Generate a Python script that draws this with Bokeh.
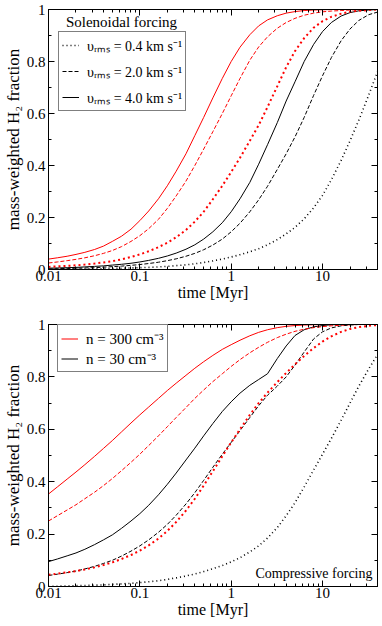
from bokeh.plotting import figure
from bokeh.models import (FixedTicker, CustomJSTickFormatter, LinearAxis, LogAxis,
                          Legend, LegendItem, Label, Range1d)
from bokeh.layouts import column
from bokeh.embed import file_html
from bokeh.resources import INLINE

FONT = "Liberation Serif"

# ---------------- data ----------------
time_myr = [0.01, 0.0125, 0.016, 0.02, 0.025, 0.032, 0.04, 0.05, 0.063, 0.08,
            0.1, 0.125, 0.16, 0.2, 0.25, 0.32, 0.4, 0.5, 0.63, 0.8,
            1, 1.25, 1.6, 2, 2.5, 3.2, 4, 5, 6.3, 8,
            10, 12.5, 16, 20, 25, 32, 40]

# Solenoidal forcing (top panel)
sol_n300_v40 = [0.040, 0.045, 0.051, 0.058, 0.066, 0.077, 0.090, 0.108, 0.128, 0.155,
                0.188, 0.225, 0.272, 0.322, 0.378, 0.445, 0.515, 0.585, 0.660, 0.735,
                0.800, 0.855, 0.903, 0.937, 0.960, 0.976, 0.986, 0.992, 0.996, 0.998,
                0.999, 1.0, 1.0, 1.0, 1.0, 1.0, 1.0]
sol_n300_v20 = [0.025, 0.029, 0.034, 0.039, 0.045, 0.053, 0.062, 0.073, 0.088, 0.108,
                0.130, 0.157, 0.193, 0.235, 0.283, 0.340, 0.400, 0.463, 0.530, 0.600,
                0.668, 0.735, 0.805, 0.856, 0.895, 0.928, 0.950, 0.966, 0.978, 0.986,
                0.991, 0.994, 0.996, 0.998, 0.999, 1.0, 1.0]
sol_n300_v04 = [0.010, 0.012, 0.014, 0.016, 0.019, 0.023, 0.027, 0.032, 0.039, 0.048,
                0.058, 0.070, 0.086, 0.103, 0.124, 0.152, 0.184, 0.222, 0.270, 0.322,
                0.375, 0.430, 0.495, 0.555, 0.625, 0.705, 0.778, 0.840, 0.890, 0.930,
                0.955, 0.972, 0.984, 0.991, 0.995, 0.998, 1.0]
sol_n30_v40 = [0.005, 0.006, 0.007, 0.008, 0.010, 0.012, 0.014, 0.017, 0.020, 0.024,
               0.029, 0.035, 0.043, 0.052, 0.063, 0.078, 0.095, 0.117, 0.145, 0.180,
               0.222, 0.272, 0.335, 0.405, 0.480, 0.565, 0.648, 0.722, 0.800, 0.866,
               0.915, 0.950, 0.975, 0.988, 0.995, 0.998, 1.0]
sol_n30_v20 = [0.002, 0.003, 0.004, 0.005, 0.006, 0.007, 0.009, 0.011, 0.013, 0.016,
               0.019, 0.023, 0.028, 0.034, 0.041, 0.051, 0.062, 0.076, 0.094, 0.117,
               0.145, 0.178, 0.222, 0.268, 0.320, 0.385, 0.445, 0.510, 0.585, 0.670,
               0.745, 0.815, 0.880, 0.925, 0.958, 0.980, 0.990]
sol_n30_v04 = [0.000, 0.001, 0.001, 0.002, 0.002, 0.003, 0.003, 0.004, 0.005, 0.006,
               0.007, 0.008, 0.010, 0.012, 0.015, 0.018, 0.022, 0.027, 0.033, 0.040,
               0.048, 0.057, 0.068, 0.080, 0.095, 0.115, 0.137, 0.162, 0.195, 0.237,
               0.285, 0.345, 0.420, 0.495, 0.575, 0.670, 0.760]

# Compressive forcing (bottom panel)
comp_n300_v40 = [0.353, 0.380, 0.410, 0.437, 0.465, 0.497, 0.527, 0.557, 0.590, 0.624,
                 0.655, 0.685, 0.718, 0.748, 0.776, 0.806, 0.833, 0.858, 0.882, 0.905,
                 0.923, 0.940, 0.957, 0.970, 0.980, 0.988, 0.993, 0.996, 0.998, 0.999,
                 1.0, 1.0, 1.0, 1.0, 1.0, 1.0, 1.0]
comp_n300_v20 = [0.250, 0.270, 0.292, 0.312, 0.335, 0.360, 0.385, 0.412, 0.442, 0.474,
                 0.505, 0.538, 0.575, 0.610, 0.645, 0.683, 0.718, 0.750, 0.782, 0.812,
                 0.840, 0.866, 0.892, 0.913, 0.932, 0.950, 0.963, 0.974, 0.982, 0.988,
                 0.992, 0.995, 0.997, 0.999, 1.0, 1.0, 1.0]
comp_n300_v04 = [0.045, 0.049, 0.054, 0.059, 0.065, 0.073, 0.082, 0.092, 0.105, 0.120,
                 0.137, 0.157, 0.183, 0.212, 0.246, 0.290, 0.335, 0.385, 0.440, 0.497,
                 0.550, 0.600, 0.655, 0.700, 0.740, 0.780, 0.815, 0.848, 0.880, 0.910,
                 0.935, 0.955, 0.972, 0.983, 0.990, 0.995, 0.998]
comp_n30_v40 = [0.095, 0.105, 0.117, 0.128, 0.142, 0.160, 0.178, 0.197, 0.222, 0.250,
                0.278, 0.310, 0.350, 0.390, 0.433, 0.483, 0.528, 0.575, 0.622, 0.668,
                0.705, 0.738, 0.768, 0.790, 0.812, 0.870, 0.918, 0.958, 0.980, 0.991,
                0.996, 0.999, 1.0, 1.0, 1.0, 1.0, 1.0]
comp_n30_v20 = [0.042, 0.047, 0.053, 0.059, 0.067, 0.077, 0.088, 0.100, 0.116, 0.135,
                0.155, 0.178, 0.207, 0.237, 0.272, 0.315, 0.358, 0.405, 0.455, 0.505,
                0.550, 0.595, 0.645, 0.690, 0.730, 0.765, 0.800, 0.845, 0.895, 0.945,
                0.972, 0.987, 0.995, 0.998, 1.0, 1.0, 1.0]
comp_n30_v04 = [0.000, 0.001, 0.002, 0.003, 0.004, 0.005, 0.006, 0.008, 0.010, 0.012,
                0.015, 0.018, 0.022, 0.027, 0.033, 0.040, 0.048, 0.057, 0.068, 0.080,
                0.094, 0.110, 0.132, 0.155, 0.185, 0.225, 0.270, 0.320, 0.380, 0.445,
                0.505, 0.565, 0.635, 0.700, 0.765, 0.830, 0.885]

x_major_ticks = [0.01, 0.1, 1, 10]
x_minor_ticks = [0.02, 0.03, 0.04, 0.05, 0.06, 0.07, 0.08, 0.09,
                 0.2, 0.3, 0.4, 0.5, 0.6, 0.7, 0.8, 0.9,
                 2, 3, 4, 5, 6, 7, 8, 9, 20, 30, 40]
y_major_ticks = [0, 0.2, 0.4, 0.6, 0.8, 1]
y_minor_ticks = [0.1, 0.3, 0.5, 0.7, 0.9]

vel_labels = ["\u03c5\u1d63\u2098\u209b = 0.4 km s\u207b\u00b9",
              "\u03c5\u1d63\u2098\u209b = 2.0 km s\u207b\u00b9",
              "\u03c5\u1d63\u2098\u209b = 4.0 km s\u207b\u00b9"]
dens_labels = ["n = 300 cm\u207b\u00b3", "n = 30 cm\u207b\u00b3"]
panel_titles = ["Solenoidal forcing", "Compressive forcing"]

RED = "#ff0000"
BLACK = "#000000"

FRAME_W = 329


def style_axes(p):
    fmt = CustomJSTickFormatter(code="return String(tick);")
    blank = CustomJSTickFormatter(code="return '';")
    xb = p.xaxis[0]
    xb.ticker = FixedTicker(ticks=x_major_ticks, minor_ticks=x_minor_ticks)
    xb.formatter = fmt
    yl = p.yaxis[0]
    yl.ticker = FixedTicker(ticks=y_major_ticks, minor_ticks=y_minor_ticks)
    yl.formatter = fmt
    xt = LogAxis(ticker=FixedTicker(ticks=x_major_ticks, minor_ticks=x_minor_ticks), formatter=blank)
    yr = LinearAxis(ticker=FixedTicker(ticks=y_major_ticks, minor_ticks=y_minor_ticks), formatter=blank)
    p.add_layout(xt, "above")
    p.add_layout(yr, "right")
    for ax in [xb, yl, xt, yr]:
        ax.major_tick_in = 6
        ax.major_tick_out = 0
        ax.minor_tick_in = 3
        ax.minor_tick_out = 0
        ax.axis_line_color = BLACK
        ax.major_tick_line_color = BLACK
        ax.minor_tick_line_color = BLACK
        ax.major_label_text_font = FONT
        ax.major_label_text_font_size = "15px"
        ax.major_label_text_color = BLACK
        ax.axis_label_text_font = FONT
        ax.axis_label_text_font_style = "normal"
        ax.axis_label_text_color = BLACK
    for ax in [xt, yr]:
        ax.major_label_text_font_size = "0px"
        ax.major_label_standoff = 0
    xb.major_label_standoff = 1
    yl.major_label_standoff = 3
    xb.axis_label = "time [Myr]"
    xb.axis_label_text_font_size = "16px"
    xb.axis_label_standoff = 0
    yl.axis_label = "mass-weighted H\u2082 fraction"
    yl.axis_label_text_font_size = "17px"
    yl.axis_label_standoff = 1


def make_fig(frame_h, top, bottom):
    p = figure(frame_width=FRAME_W, frame_height=frame_h, x_axis_type="log",
               x_range=Range1d(0.01, 40), y_range=Range1d(0, 1),
               output_backend="svg", toolbar_location=None,
               min_border_left=41, min_border_right=4,
               min_border_top=top, min_border_bottom=bottom)
    p.xgrid.visible = False
    p.ygrid.visible = False
    p.outline_line_color = BLACK
    p.background_fill_color = "white"
    p.border_fill_color = "white"
    style_axes(p)
    return p


def draw(p, s40_r, s20_r, s04_r, s40_b, s20_b, s04_b):
    r = {}
    r["b04"] = p.line(time_myr, s04_b, line_color=BLACK, line_width=1.6, line_dash="1 3")
    r["b20"] = p.line(time_myr, s20_b, line_color=BLACK, line_width=1, line_dash="4 2")
    r["b40"] = p.line(time_myr, s40_b, line_color=BLACK, line_width=1)
    r["r04"] = p.line(time_myr, s04_r, line_color=RED, line_width=2, line_dash="2 3")
    r["r20"] = p.line(time_myr, s20_r, line_color=RED, line_width=1, line_dash="4 2")
    r["r40"] = p.line(time_myr, s40_r, line_color=RED, line_width=1)
    return r


def style_legend(lg, size):
    lg.label_text_font = FONT
    lg.label_text_font_size = size
    lg.label_text_color = BLACK
    lg.border_line_color = BLACK
    lg.border_line_width = 1
    lg.background_fill_color = "white"
    lg.background_fill_alpha = 1.0
    lg.glyph_width = 17
    lg.label_standoff = 8
    lg.margin = 0


# ---------- top panel ----------
H1 = 260
p1 = make_fig(H1, 9, 38)
r1 = draw(p1, sol_n300_v40, sol_n300_v20, sol_n300_v04, sol_n30_v40, sol_n30_v20, sol_n30_v04)
lg1 = Legend(items=[LegendItem(label=vel_labels[0], renderers=[r1["b04"]]),
                    LegendItem(label=vel_labels[1], renderers=[r1["b20"]]),
                    LegendItem(label=vel_labels[2], renderers=[r1["b40"]])],
             location=(10, H1 - 24 - 78))
style_legend(lg1, "14px")
lg1.label_height = 20
lg1.glyph_height = 20
lg1.spacing = 6
lg1.padding = 3
p1.add_layout(lg1)
p1.add_layout(Label(x=73, y=H1 - 12, x_units="screen", y_units="screen", text=panel_titles[0],
                    text_font=FONT, text_font_size="15px", text_align="center",
                    text_baseline="middle", text_color=BLACK))

# ---------- bottom panel ----------
H2 = 262
p2 = make_fig(H2, 17, 38)
r2 = draw(p2, comp_n300_v40, comp_n300_v20, comp_n300_v04, comp_n30_v40, comp_n30_v20, comp_n30_v04)
lg2 = Legend(items=[LegendItem(label=dens_labels[0], renderers=[r2["r40"]]),
                    LegendItem(label=dens_labels[1], renderers=[r2["b40"]])],
             location=(9, H2 - 8 - 40))
style_legend(lg2, "15px")
lg2.label_height = 17
lg2.glyph_height = 17
lg2.spacing = 0
lg2.padding = 3
p2.add_layout(lg2)
p2.add_layout(Label(x=FRAME_W - 5, y=13, x_units="screen", y_units="screen", text=panel_titles[1],
                    text_font=FONT, text_font_size="14px", text_align="right",
                    text_baseline="middle", text_color=BLACK))

layout = column(p1, p2, spacing=0)
open("out.html", "w").write(file_html(layout, INLINE))
